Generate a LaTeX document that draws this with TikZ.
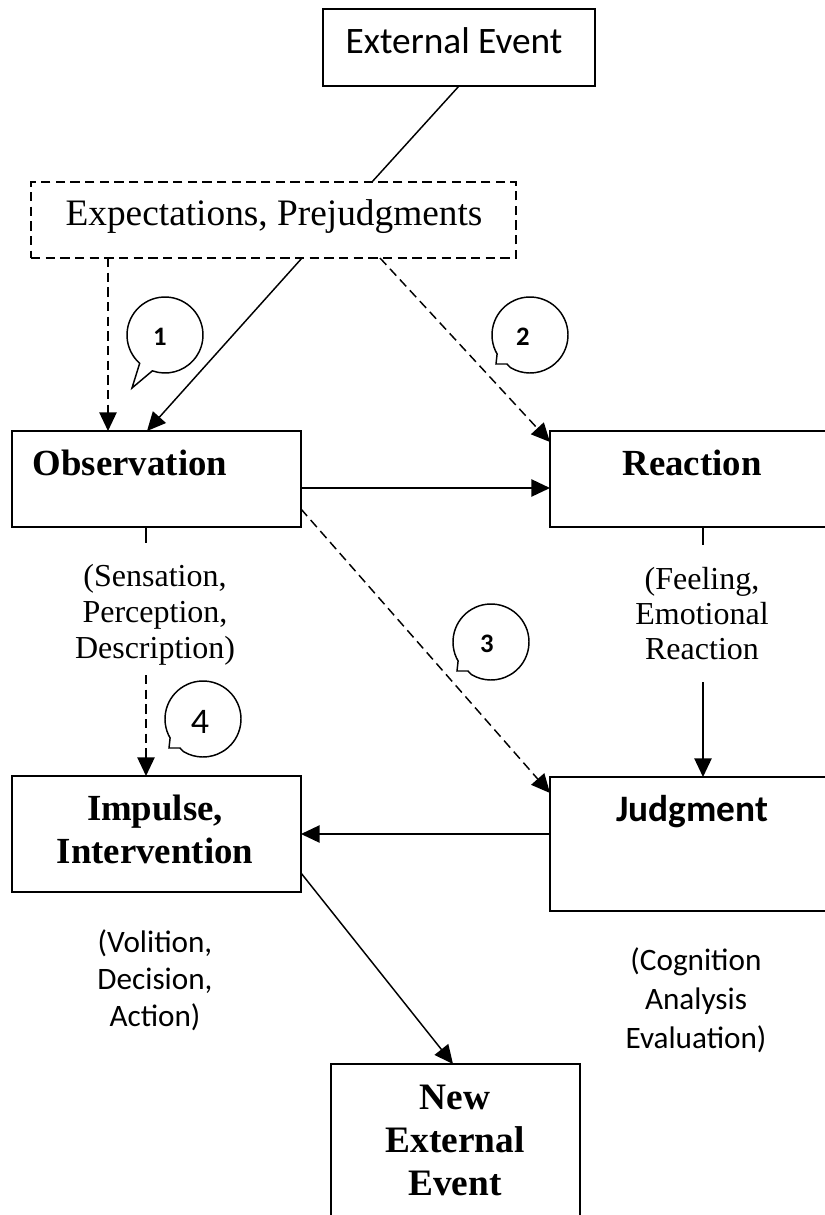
\documentclass[tikz,border=0pt]{standalone}
\usepackage{fontspec}
\setmainfont{Liberation Serif}
\newfontfamily\calib{Carlito}
\usetikzlibrary{arrows.meta,calc}

\tikzset{
  box/.style={draw, line width=1.4pt, inner sep=0pt, outer sep=0pt, anchor=north west},
  conn/.style={line width=1.1pt},
  arr/.style={conn, -{Triangle[length=14pt,width=13pt]}},
  dashline/.style={dash pattern=on 7pt off 4pt},
  bubble/.style={draw, line width=1.1pt, fill=white},
  % multi-line labels are placed by the baseline of their last line
  lbl/.style={inner sep=0pt, anchor=base, align=center},
  serifbig/.style={font=\fontsize{28pt}{32pt}\selectfont},
  serifbold/.style={font=\fontsize{27.6pt}{31.8pt}\selectfont\bfseries},
}

\begin{document}
\begin{tikzpicture}[x=0.75pt, y=-0.75pt]
  \path[use as bounding box, clip] (0,0) rectangle (825,1215);

  % boxes
  \node[box, minimum width=204pt, minimum height=57.75pt] (ext) at (323,9) {};
  \node[box, line width=1.1pt, dashline, minimum width=363.75pt, minimum height=57pt] (exp) at (31,182) {};
  \node[box, minimum width=216.75pt, minimum height=72pt] (obs) at (12,431) {};
  \node[box, minimum width=221.25pt, minimum height=72pt] (rea) at (550,431) {};
  \node[box, minimum width=216.75pt, minimum height=87pt] (imp) at (12,776) {};
  \node[box, minimum width=221.25pt, minimum height=100.5pt] (jud) at (550,777) {};
  \node[box, minimum width=186.75pt, minimum height=132pt] (nee) at (331,1064) {};

  % box labels
  \node[lbl, font=\calib\fontsize{28pt}{32pt}\selectfont] (extT) at (454,53) {External Event};
  \node[lbl, serifbig] (expT) at (274,225) {Expectations, Prejudgments};
  \node[lbl, serifbold] (obsT) at (130,475) {Observation};
  \node[lbl, serifbold] (reaT) at (692,475) {Reaction};
  \node[lbl, serifbold] (impT) at (155,863) {Impulse,\\Intervention};
  \node[lbl, font=\calib\fontsize{28pt}{32pt}\selectfont\bfseries] (judT) at (692,821) {Judgment};
  \node[lbl, font=\fontsize{28pt}{32pt}\selectfont\bfseries] (neeT) at (455,1195) {New\\External\\Event};

  % notes under the boxes
  \node[lbl, font=\fontsize{24pt}{27pt}\selectfont] (obsN) at (155,658) {(Sensation,\\Perception,\\Description)};
  \node[lbl, font=\fontsize{24pt}{26pt}\selectfont] (reaN) at (702,659) {(Feeling,\\Emotional\\Reaction};
  \node[lbl, font=\calib\fontsize{23.4pt}{27.7pt}\selectfont] (impN) at (155,1026) {(Volition,\\Decision,\\Action)};
  \node[lbl, font=\calib\fontsize{23.4pt}{29pt}\selectfont] (judN) at (696,1048) {(Cognition\\Analysis\\Evaluation)};

  % free ends of the short connectors
  \coordinate (obsStub) at ($(obs.south west)+(134,16)$);
  \coordinate (reaStub) at ($(rea.south west)+(153,18)$);
  \coordinate (reaOut) at (703,682);
  \coordinate (impIn) at (146,675);

  % connectors
  \draw[conn] (ext.south) -- ($(exp.north west)!0.703!(exp.north east)$);
  \draw[arr, dashline] ($(exp.south west)+(77,0)$) -- ($(obs.north west)+(96,0)$);
  \draw[arr] ($(exp.south west)+(271,0)$) -- ($(obs.north west)+(135,0)$);
  \draw[arr, dashline] ($(exp.south west)+(349,0)$) -- ($(rea.north west)+(0,11)$);
  \draw[arr] ($(obs.north east)+(0,57)$) -- ($(rea.north west)+(0,57)$);
  \draw[arr, dashline] ($(obs.north east)+(0,78)$) -- ($(jud.north west)+(0,16)$);
  \draw[conn] ($(obs.south west)+(134,0)$) -- (obsStub);
  \draw[conn] ($(rea.south west)+(153,0)$) -- (reaStub);
  \draw[arr] (reaOut) -- ($(jud.north west)+(153,0)$);
  \draw[arr, dashline] (impIn) -- ($(imp.north west)+(134,0)$);
  \draw[arr] ($(jud.north west)+(0,57)$) -- ($(imp.north east)+(0,58)$);
  \draw[arr] ($(imp.north east)+(0,97)$) -- ($(nee.north west)+(122,0)$);

  % numbered speech bubbles
  \coordinate (c1) at (165,335);
  \coordinate (c2) at (530,335);
  \coordinate (c3) at (491,642);
  \coordinate (c4) at (203,719);
  \draw[bubble] ($(c1)+(131.8:38)$) arc[start angle=131.8, end angle=469.4, radius=38]
    -- ($(c1)+(-33,53)$) -- cycle;
  \foreach \c in {c2,c3,c4}
    \draw[bubble] ($(\c)+(150:38)$) arc[start angle=150, end angle=481, radius=38]
      -- ($(\c)+(-23,29)$) -- ($(\c)+(-34,29)$) -- cycle;
  \node[lbl, font=\calib\fontsize{20pt}{24pt}\selectfont\bfseries] (n1) at (160,345) {1};
  \node[lbl, font=\calib\fontsize{20pt}{24pt}\selectfont\bfseries] (n2) at (523,345) {2};
  \node[lbl, font=\calib\fontsize{20pt}{24pt}\selectfont\bfseries] (n3) at (487,652) {3};
  \node[lbl, font=\calib\fontsize{27pt}{30pt}\selectfont] (n4) at (200,733) {4};
\end{tikzpicture}
\end{document}
